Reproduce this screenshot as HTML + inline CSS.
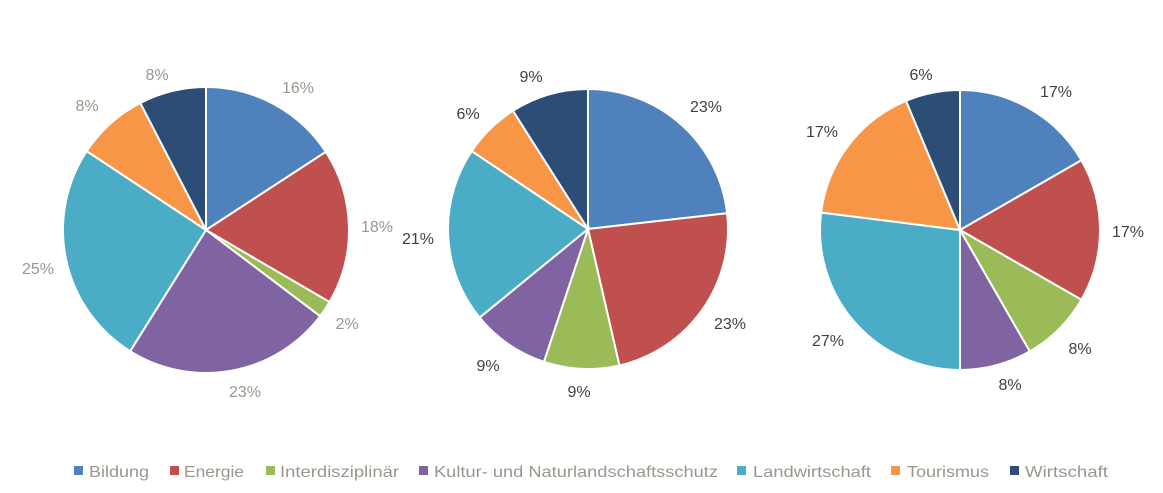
<!DOCTYPE html>
<html><head><meta charset="utf-8"><style>
html,body{margin:0;padding:0;background:#fff;width:1163px;height:493px;overflow:hidden}
svg text{font-family:"Liberation Sans",sans-serif;font-size:16px}
</style></head><body>
<svg id="s" width="1163" height="493" xmlns="http://www.w3.org/2000/svg">
<g id="pies"></g>
<g fill="#9a968c" text-anchor="middle">
<text x="298" y="93">16%</text>
<text x="377" y="232">18%</text>
<text x="347" y="329">2%</text>
<text x="245" y="397">23%</text>
<text x="38" y="274">25%</text>
<text x="87" y="111">8%</text>
<text x="157" y="80">8%</text>
</g>
<g fill="#404040" text-anchor="middle">
<text x="706" y="112">23%</text>
<text x="730" y="329">23%</text>
<text x="579" y="397">9%</text>
<text x="488" y="371">9%</text>
<text x="418" y="244">21%</text>
<text x="468" y="119">6%</text>
<text x="531" y="82">9%</text>
<text x="1056" y="97">17%</text>
<text x="1128" y="237">17%</text>
<text x="1080" y="354">8%</text>
<text x="1010" y="390">8%</text>
<text x="828" y="346">27%</text>
<text x="822" y="137">17%</text>
<text x="921" y="80">6%</text>
</g>
<g>
<rect x="74" y="466" width="9" height="9" fill="#4F81BD"/>
<rect x="170" y="466" width="9" height="9" fill="#C0504D"/>
<rect x="266" y="466" width="9" height="9" fill="#9BBB59"/>
<rect x="419" y="466" width="9" height="9" fill="#8064A2"/>
<rect x="737" y="466" width="9" height="9" fill="#4BACC6"/>
<rect x="891" y="466" width="9" height="9" fill="#F79646"/>
<rect x="1010" y="466" width="9" height="9" fill="#2C4D75"/>
</g>
<g fill="#9a968c" style="font-size:17px">
<text x="89" y="477" textLength="60" lengthAdjust="spacingAndGlyphs">Bildung</text>
<text x="184" y="477" textLength="60" lengthAdjust="spacingAndGlyphs">Energie</text>
<text x="280" y="477" textLength="119" lengthAdjust="spacingAndGlyphs">Interdisziplinär</text>
<text x="434" y="477" textLength="284" lengthAdjust="spacingAndGlyphs">Kultur- und Naturlandschaftsschutz</text>
<text x="753" y="477" textLength="118" lengthAdjust="spacingAndGlyphs">Landwirtschaft</text>
<text x="907" y="477" textLength="82" lengthAdjust="spacingAndGlyphs">Tourismus</text>
<text x="1025" y="477" textLength="83" lengthAdjust="spacingAndGlyphs">Wirtschaft</text>
</g>
</svg>
<script>
var cols=["#4F81BD","#C0504D","#9BBB59","#8064A2","#4BACC6","#F79646","#2C4D75"];
var pies=[
 {cx:206,cy:230,r:143,e:[15.8,33.4,35.3,58.9,84.3,92.4,100]},
 {cx:588,cy:229,r:140,e:[23.2,46.4,55.1,64.1,84.4,91,100]},
 {cx:960,cy:230,r:140,e:[16.7,33.3,41.7,50,77,93.7,100]}];
var g=document.getElementById("pies"),h="";
pies.forEach(function(p){var s=0;p.e.forEach(function(e,i){
 var a0=s/100*2*Math.PI,a1=e/100*2*Math.PI;
 var x0=p.cx+p.r*Math.sin(a0),y0=p.cy-p.r*Math.cos(a0),x1=p.cx+p.r*Math.sin(a1),y1=p.cy-p.r*Math.cos(a1);
 h+='<path d="M'+p.cx+','+p.cy+'L'+x0+','+y0+'A'+p.r+','+p.r+' 0 '+((a1-a0)>Math.PI?1:0)+' 1 '+x1+','+y1+'Z" fill="'+cols[i]+'" stroke="#fff" stroke-width="2"/>';
 s=e;});});
g.innerHTML=h;
</script>
</body></html>
